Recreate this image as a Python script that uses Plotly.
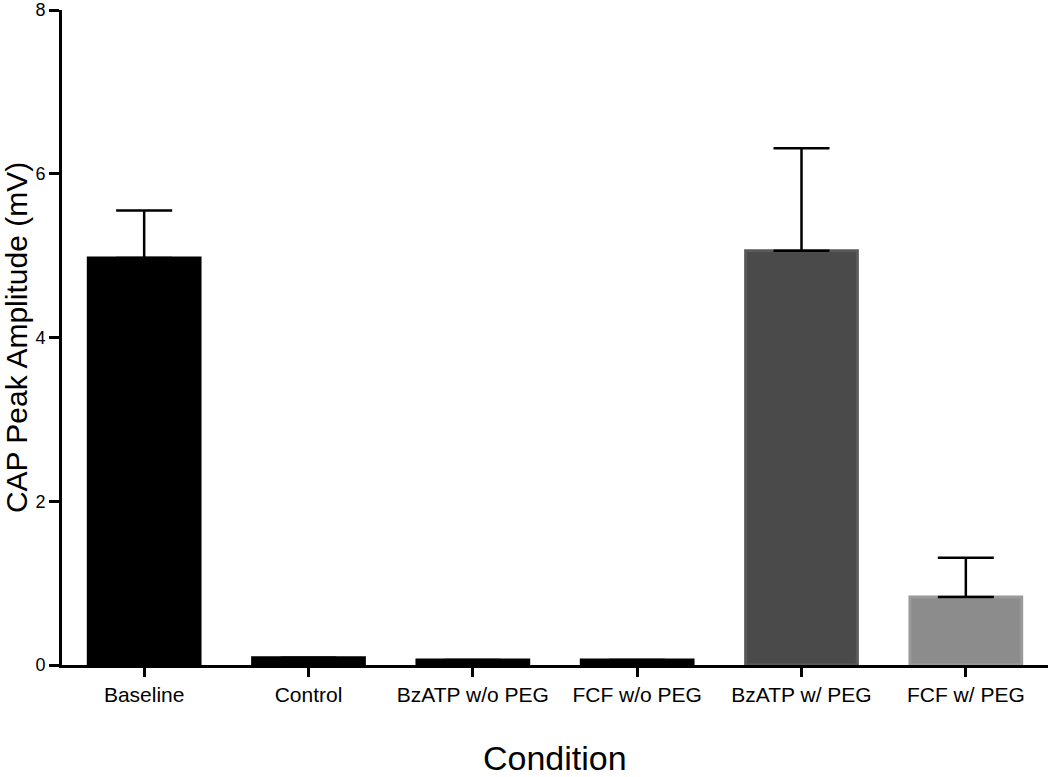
import plotly.graph_objects as go

categories = ["Baseline", "Control", "BzATP w/o PEG", "FCF w/o PEG", "BzATP w/ PEG", "FCF w/ PEG"]
means = [4.97, 0.09, 0.06, 0.06, 5.06, 0.83]
sem_upper = [0.58, None, None, None, 1.25, 0.48]
fill_colors = ["#000000", "#000000", "#000000", "#000000", "#4a4a4a", "#8c8c8c"]
line_colors = ["#000000", "#000000", "#000000", "#000000", "#5a5a5a", "#9a9a9a"]

fig = go.Figure()
fig.add_trace(go.Bar(
    x=list(range(len(categories))),
    y=means,
    width=0.68,
    marker=dict(color=fill_colors, line=dict(color=line_colors, width=3)),
    error_y=dict(type="data", array=sem_upper, arrayminus=[0] * len(categories),
                 symmetric=False, color="#000000", thickness=2.5, width=28),
    showlegend=False,
))

font_family = "Arial, Liberation Sans, Helvetica, sans-serif"
fig.update_layout(
    width=1050, height=777,
    margin=dict(l=62, r=2, t=10, b=112),
    paper_bgcolor="white", plot_bgcolor="white",
    font=dict(family=font_family, color="#000000"),
    bargap=0.3,
    annotations=[dict(text="Condition", xref="paper", yref="paper", x=0.5, y=-93 / 655,
                      xanchor="center", yanchor="middle", showarrow=False,
                      font=dict(size=34, family=font_family, color="#000000"))],
)
fig.update_xaxes(
    range=[-0.5, 5.5], automargin=False,
    tickmode="array", tickvals=list(range(len(categories))), ticktext=categories,
    showline=True, linecolor="#000000", linewidth=3,
    ticks="outside", ticklen=9, tickwidth=3, tickcolor="#000000",
    showgrid=False, zeroline=False,
    tickfont=dict(size=21, family=font_family),
)
fig.update_yaxes(
    range=[0, 8], tickvals=[0, 2, 4, 6, 8], automargin=False,
    ticklabeloverflow="allow",
    showline=True, linecolor="#000000", linewidth=3,
    ticks="outside", ticklen=10, tickwidth=3, tickcolor="#000000",
    showgrid=False, zeroline=False,
    tickfont=dict(size=18, family=font_family),
    title=dict(text="CAP Peak Amplitude (mV)", font=dict(size=30, family=font_family), standoff=12),
)

fig.write_html("out.html", config={"displayModeBar": False},
               post_script="document.body.style.margin='0';document.body.style.overflow='hidden';")
